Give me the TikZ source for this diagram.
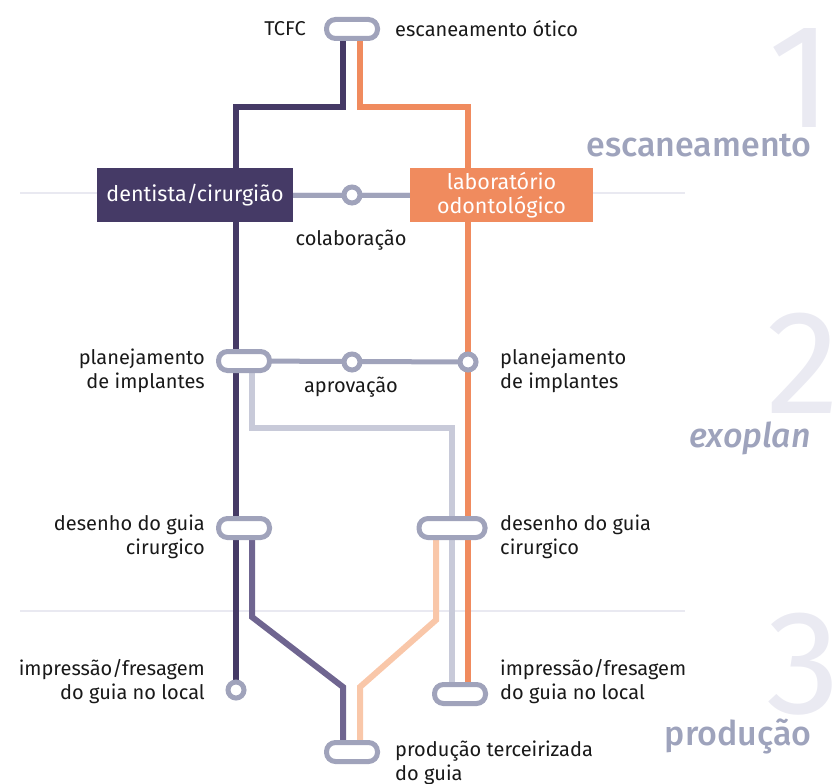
\documentclass[tikz,border=0pt]{standalone}
\usepackage{fontspec}
\setmainfont{Fira Sans}
\IfFontExistsTF{Fira Sans Medium}{\newfontfamily\phasefont{Fira Sans Medium}}{\newfontfamily\phasefont{Fira Sans}}
\usetikzlibrary{calc}

\definecolor{dentcolor}{HTML}{453A66}
\definecolor{labcolor}{HTML}{F08B5E}
\definecolor{pillgray}{HTML}{A0A3BB}
\definecolor{pathgray}{HTML}{C8CAD9}
\definecolor{millcolor}{HTML}{6F6590}
\definecolor{printcolor}{HTML}{F9C7A9}
\definecolor{sepgray}{HTML}{E9E9F1}
\definecolor{numgray}{HTML}{EAEAF2}
\definecolor{phasegray}{HTML}{9EA3BC}

\pgfdeclarelayer{back}
\pgfdeclarelayer{rails}
\pgfsetlayers{back,rails,main}

\tikzset{
  pill/.style={draw=pillgray, line width=5pt, fill=white, rounded corners=9pt,
    minimum width=51pt, minimum height=19pt, inner sep=0pt},
  stop/.style={circle, draw=pillgray, line width=5pt, fill=white,
    minimum size=16pt, inner sep=0pt},
  rolebox/.style={text=white, minimum height=54pt, inner sep=0pt,
    font=\fontsize{21.5}{24}\selectfont, align=center},
  lbl/.style={font=\fontsize{20}{24}\selectfont, text=black!90, inner sep=0pt},
  metro/.style={line width=6pt},
  phase/.style={font=\phasefont\fontsize{34}{34}\selectfont, text=phasegray, inner sep=0pt},
  bignum/.style={font=\fontsize{148}{148}\selectfont, text=numgray, inner sep=0pt}
}

\begin{document}
\begin{tikzpicture}[x=1pt, y=-1pt]
                \useasboundingbox (0,0) rectangle (836,784);
                \clip (0,0) rectangle (836,784);

                % Stations:
                \node[pill] (tcfc) at (352,29) {};
                \node[rolebox, fill=dentcolor, minimum width=196pt] (dent) at (195,195) {dentista/cirurgião};
                \node[rolebox, fill=labcolor, minimum width=183pt] (lab) at (501.5,195) {laboratório\\odontológico};
                \node[stop] (colab) at (352,195) {};
                \node[pill] (planL) at (244,361) {};
                \node[stop] (aprov) at (352,362) {};
                \node[stop] (planR) at (468,362) {};
                \node[pill] (desL) at (244,528) {};
                \node[pill, minimum width=66pt] (desR) at (452,528) {};
                \node[stop] (impL) at (236,690) {};
                \node[pill] (impR) at (460,694) {};
                \node[pill] (prod) at (352,752) {};
                \coordinate (split) at (0,107);

                % Phases and separators:
                \begin{pgfonlayer}{back}
                \node[bignum, anchor=base west] (num1) at (768,128) {1};
                \node[bignum, anchor=base west] (num2) at (766,413) {2};
                \node[bignum, anchor=base west] (num3) at (766,713) {3};
                \draw[sepgray, line width=2.5pt] (20,193) -- (685,193);
                \draw[sepgray, line width=2.5pt] (20,611) -- (685,611);
                \node[phase, anchor=base east] (ph1) at (812,157) {escaneamento};
                \node[phase, anchor=base east, font=\phasefont\fontsize{34}{34}\itshape] (ph2) at (811,447) {exoplan};
                \node[phase, anchor=base east] (ph3) at (812,745) {produção};
                \end{pgfonlayer}

                % Paths:
                \begin{pgfonlayer}{rails}
                \draw[metro, pathgray] ([xshift=8pt]planL.center) -- ++(0,67) -| ([xshift=-8pt]impR.center);
                \draw[metro, millcolor] ([xshift=8pt]desL.center) -- ++(0,89) -- ++(91,70) -- ([xshift=-9pt]prod.center);
                \draw[metro, printcolor] ([xshift=-16pt]desR.center) -- ++(0,92) -- ++(-76,67) -- ([xshift=8pt]prod.center);
                \draw[metro, dentcolor] ([xshift=-9pt]tcfc.center) |- (split -| impL) -- (impL.center);
                \draw[metro, labcolor] ([xshift=8pt]tcfc.center) |- (split -| planR) -- (planR.center) -- (planR |- impR);
                \draw[line width=5pt, pillgray] (dent.center) -- (lab.center);
                \draw[line width=5pt, pillgray] (planL.center) -- (planR.center);
                \end{pgfonlayer}

                % Labels:
                \node[lbl, anchor=east] (tcfcL) at (306,29) {TCFC};
                \node[lbl, anchor=west] (tcfcR) at (395,29) {escaneamento ótico};
                \node[lbl] (colabL) at (351,240) {colaboração};
                \node[lbl] (aprovL) at (351,387) {aprovação};
                \node[lbl, anchor=east, align=right] (planLL) at (205,371) {planejamento\\de implantes};
                \node[lbl, anchor=west, align=left] (planRL) at (500,371) {planejamento\\de implantes};
                \node[lbl, anchor=east, align=right] (desLL) at (205,537) {desenho do guia\\cirurgico};
                \node[lbl, anchor=west, align=left] (desRL) at (500,537) {desenho do guia\\cirurgico};
                \node[lbl, anchor=east, align=right] (impLL) at (205,682) {impressão/fresagem\\do guia no local};
                \node[lbl, anchor=west, align=left] (impRL) at (500,682) {impressão/fresagem\\do guia no local};
                \node[lbl, anchor=west, align=left] (prodL) at (395,763) {produção terceirizada\\do guia};
\end{tikzpicture}
\end{document}
